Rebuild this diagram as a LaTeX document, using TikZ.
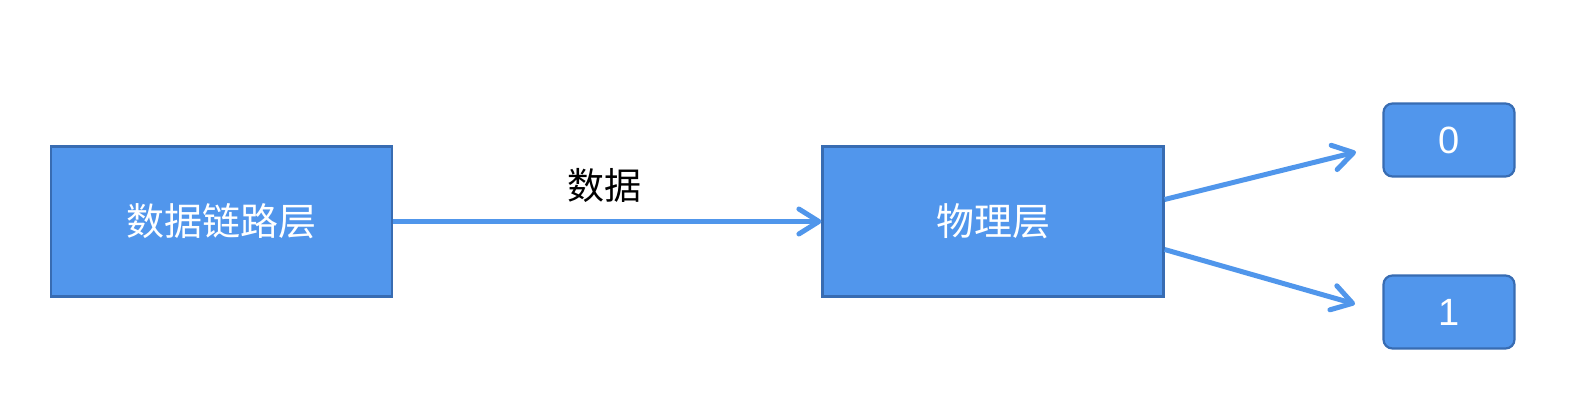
\documentclass[tikz,border=0pt]{standalone}
\usepackage{fontspec}
\setmainfont{Liberation Sans}
\newfontfamily\cjk{Noto Sans CJK SC}
\usetikzlibrary{arrows.meta}
\definecolor{boxfill}{RGB}{81,150,236}
\definecolor{boxline}{RGB}{56,108,178}
\definecolor{arrowc}{RGB}{80,150,235}
\tikzset{
  layerbox/.style={draw=boxline, line width=2.2pt, fill=boxfill, minimum width=341pt, minimum height=150pt, inner sep=0pt, text=white, font=\cjk\fontsize{38}{42}\selectfont},
  bitbox/.style={draw=boxline, line width=2.2pt, fill=boxfill, rounded corners=9pt, minimum width=131pt, minimum height=73pt, inner sep=0pt, text=white, font=\fontsize{38}{42}\selectfont},
  conn/.style={draw=arrowc, line width=5pt, -{Straight Barb[length=20pt,width=25pt,round]}},
}
\begin{document}
\begin{tikzpicture}[x=1pt,y=-1pt]
\useasboundingbox (0,0) rectangle (1588,414);
\node[layerbox] (b1) at (221.5,221.5) {数据链路层};
\node[layerbox] (b2) at (993,221.5) {物理层};
\node[bitbox] (n0) at (1449,140) {0};
\node[bitbox] (n1) at (1449,312) {1};
\node[font=\cjk\fontsize{37}{42}\selectfont, text=black] (lbl) at (604,185) {数据};
\coordinate (t0) at (1356,152);
\coordinate (t1) at (1355,304);
\draw[conn] (b1.east) -- (b2.west);
\draw[conn] ([yshift=22pt]b2.east) -- (t0);
\draw[conn] ([yshift=-28pt]b2.east) -- (t1);
\end{tikzpicture}
\end{document}
